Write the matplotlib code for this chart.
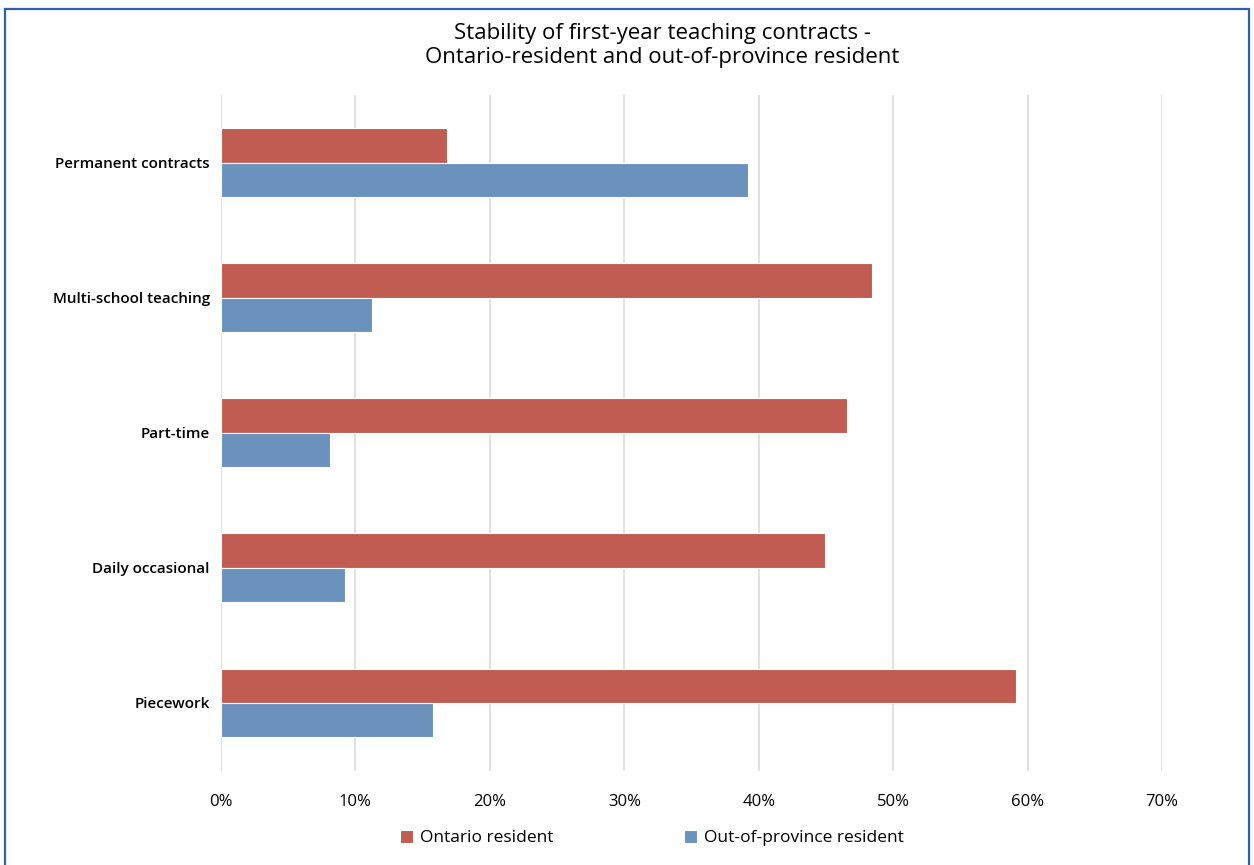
import matplotlib
matplotlib.use("Agg")
import matplotlib.pyplot as plt
import numpy as np
from matplotlib.patches import Rectangle

plt.rcParams['font.family'] = ['Open Sans', 'DejaVu Sans']

# data
categories = ['Permanent contracts', 'Multi-school teaching', 'Part-time',
              'Daily occasional', 'Piecework']
ontario = [16.8, 48.4, 46.6, 44.9, 59.1]
out_of_province = [39.2, 11.2, 8.1, 9.2, 15.8]
xticks = [0, 10, 20, 30, 40, 50, 60, 70]

red = '#C05C52'
blue = '#6B91BD'

fig = plt.figure(figsize=(12.54, 8.65), dpi=100)
ax = fig.add_axes([0.1762, 0.1092, 0.7505, 0.781])

y = np.arange(len(categories))
h = 0.255
ax.barh(y - h / 2, ontario, height=h, color=red, edgecolor='white',
        linewidth=0.8, label='Ontario resident', zorder=3)
ax.barh(y + h / 2, out_of_province, height=h, color=blue, edgecolor='white',
        linewidth=0.8, label='Out-of-province resident', zorder=3)

ax.set_ylim(len(categories) - 0.5, -0.5)
ax.set_xlim(0, 70)
ax.set_yticks(y)
ax.set_yticklabels(categories, fontsize=11, fontweight='semibold')
ax.set_xticks(xticks)
ax.set_xticklabels([f'{t}%' for t in xticks], fontsize=12, fontweight='medium')
ax.tick_params(axis='both', length=0)
ax.tick_params(axis='x', pad=17)
ax.tick_params(axis='y', pad=8)
ax.grid(axis='x', color='#dcdcdc', linewidth=1.2, zorder=0)
for s in ax.spines.values():
    s.set_visible(False)

fig.text(0.528, 0.961, 'Stability of first-year teaching contracts -',
         ha='center', va='center', fontsize=16)
fig.text(0.528, 0.934, 'Ontario-resident and out-of-province resident',
         ha='center', va='center', fontsize=16)

fig.legend(loc='center', bbox_to_anchor=(0.520, 0.031), ncol=2, frameon=False,
           handlelength=0.75, handleheight=0.75,
           handletextpad=0.4, columnspacing=7.5,
           prop={'size': 12.5, 'weight': 'medium'})

# outer blue frame
fig.patches.append(Rectangle((0.004, -0.05), 0.992, 1.04, transform=fig.transFigure,
                             fill=False, edgecolor='#2C62AA', linewidth=1.6))

fig.savefig('out.png', dpi=100)
